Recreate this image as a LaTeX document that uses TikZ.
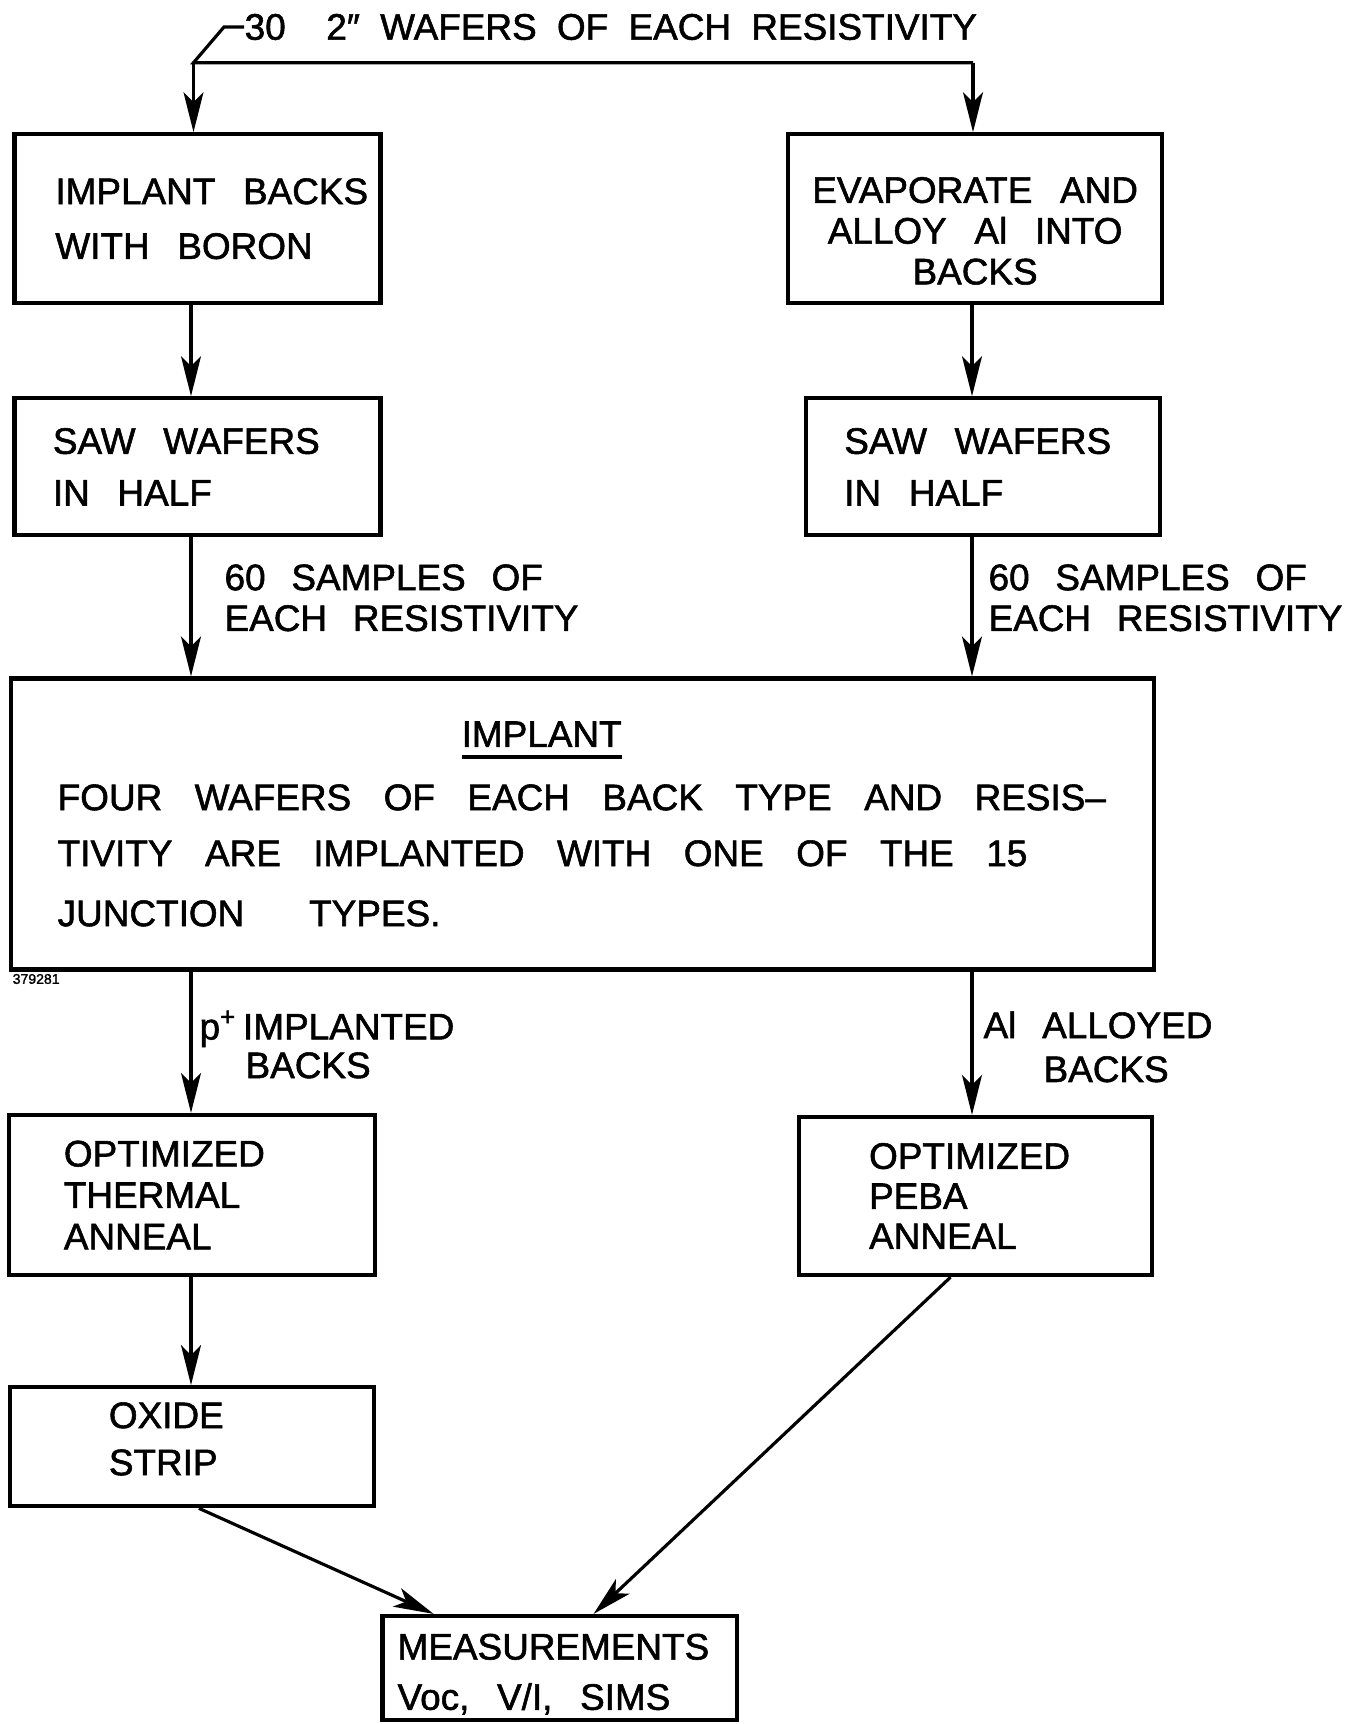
\documentclass[tikz,border=0pt]{standalone}
\usepackage{fontspec}
\setmainfont{Liberation Sans}[FakeBold=1.5]
\usetikzlibrary{arrows.meta}

\newcommand{\headline}[1]{\setbox0=\hbox{#1}\rlap{\rule[-0.12cm]{\wd0}{1.1pt}}\box0}

\tikzstyle{stepbox} = [rectangle, draw=black, line width=1.2pt, align=left, inner ysep=0pt, font=\fontsize{10.5}{13}\selectfont, execute at begin node={\spaceskip=0.75em\relax}]
\tikzstyle{arrow} = [line width=0.9pt, -{Stealth[length=4mm, width=2mm, inset=1mm]}]
\tikzstyle{flowlabel} = [inner sep=0pt, anchor=west, align=left, font=\fontsize{10.5}{13}\selectfont, execute at begin node={\spaceskip=0.7em\relax}]

\begin{document}
\begin{tikzpicture}[node distance=2.48cm]
\useasboundingbox (0,0) rectangle (13.5,-17.24);

% wafer supply, split into the two back treatments
\node (src) [flowlabel, execute at begin node={\spaceskip=0.55em\relax}] at (2.44,-0.27) {30\ \ 2″ WAFERS OF EACH RESISTIVITY};
\coordinate (split) at (1.935,-0.627);
\coordinate (splitR) at (9.73,-0.627);
\coordinate (lcol) at (1.91,0);
\coordinate (rcol) at (9.72,0);

\node (boron) [stepbox, minimum width=3.66cm, minimum height=1.69cm, text width=2.84cm, inner xsep=0.41cm] at (1.974,-2.188)
    {IMPLANT~BACKS\\[2.6pt]WITH BORON};
\node (evap) [stepbox, align=center, minimum width=3.74cm, minimum height=1.69cm, text width=3.4cm, inner xsep=0.17cm, text height=0.5cm] at (9.751,-2.188)
    {EVAPORATE AND\\[-1.4pt]ALLOY Al INTO\\[-1.4pt]BACKS};
\node (saw1) [stepbox, below of=boron, minimum width=3.66cm, minimum height=1.37cm, text width=2.89cm, inner xsep=0.385cm]
    {SAW WAFERS\\[1.7pt]IN HALF};
\node (saw2) [stepbox, below of=evap, xshift=0.077cm, minimum width=3.54cm, minimum height=1.37cm, text width=2.77cm, inner xsep=0.385cm]
    {SAW WAFERS\\[1.7pt]IN HALF};

% junction implant, common to both halves
\node (implant) [stepbox, minimum width=11.43cm, minimum height=2.91cm, text width=10.5cm, inner xsep=0.465cm, execute at begin node={\spaceskip=0.88em\relax}] at (5.827,-8.24)
    {\hspace*{4.04cm}\headline{IMPLANT}\\[5pt]
     FOUR WAFERS OF EACH BACK TYPE AND RESIS–\\[2.9pt]
     TIVITY ARE IMPLANTED WITH ONE OF THE 15\\[4.1pt]
     JUNCTION\ \ TYPES.};
\node (drawno) [inner sep=0pt, anchor=west, font=\fontsize{4}{4}\selectfont] at (0.12,-9.79) {379281};

% anneals and measurements
\node (thermal) [stepbox, minimum width=3.66cm, minimum height=1.6cm, text width=2.56cm, inner xsep=0.55cm] at (1.919,-11.95)
    {OPTIMIZED\\[-1.2pt]THERMAL\\[-1.2pt]ANNEAL};
\node (peba) [stepbox, minimum width=3.53cm, minimum height=1.58cm, text width=2.13cm, inner xsep=0.7cm] at (9.756,-11.96)
    {OPTIMIZED\\[-1.6pt]PEBA\\[-1.6pt]ANNEAL};
\node (oxide) [stepbox, below of=thermal, node distance=2.517cm, minimum width=3.64cm, minimum height=1.19cm, text width=1.66cm, inner xsep=0.99cm, text depth=0.63cm]
    {OXIDE\\[0.4pt]STRIP};
\node (meas) [stepbox, minimum width=3.54cm, minimum height=1.04cm, text width=3.24cm, inner xsep=0.15cm, text height=0.38cm] at (5.596,-16.68)
    {MEASUREMENTS\\[1.3pt]Voc, V/I, SIMS};

\draw [line width=0.9pt] (src.west) -- ++(-0.2,0) -- (split) -- (splitR);
\draw [arrow] (split) -- (split |- boron.north);
\draw [arrow] (splitR) -- (splitR |- evap.north);
\draw [arrow] (boron.south -| lcol) -- (saw1.north -| lcol);
\draw [arrow] (evap.south -| rcol) -- (saw2.north -| rcol);
\draw [arrow] (saw1.south -| lcol) -- node[flowlabel, pos=0.435, xshift=0.32cm] {60 SAMPLES OF\\[-1.4pt]EACH RESISTIVITY} (implant.north -| lcol);
\draw [arrow] (saw2.south -| rcol) -- node[flowlabel, pos=0.435, xshift=0.15cm] {60 SAMPLES OF\\[-1.4pt]EACH RESISTIVITY} (implant.north -| rcol);
\draw [arrow] (implant.south -| lcol) -- node[flowlabel, pos=0.516, xshift=0.07cm] {p\textsuperscript{+}\,IMPLANTED\\[-2pt]\hspace*{0.46cm}BACKS} (thermal.north -| lcol);
\draw [arrow] (implant.south -| rcol) -- node[flowlabel, pos=0.525, xshift=0.1cm] {Al ALLOYED\\[-0.5pt]\hspace*{0.6cm}BACKS} (peba.north -| rcol);
\draw [arrow] (thermal.south -| lcol) -- (oxide.north -| lcol);
\draw [arrow] ([xshift=0.07cm]oxide.south) -- ([xshift=-1.26cm]meas.north);
\draw [arrow] ([xshift=-0.25cm]peba.south) -- ([xshift=0.34cm]meas.north);
\end{tikzpicture}
\end{document}
